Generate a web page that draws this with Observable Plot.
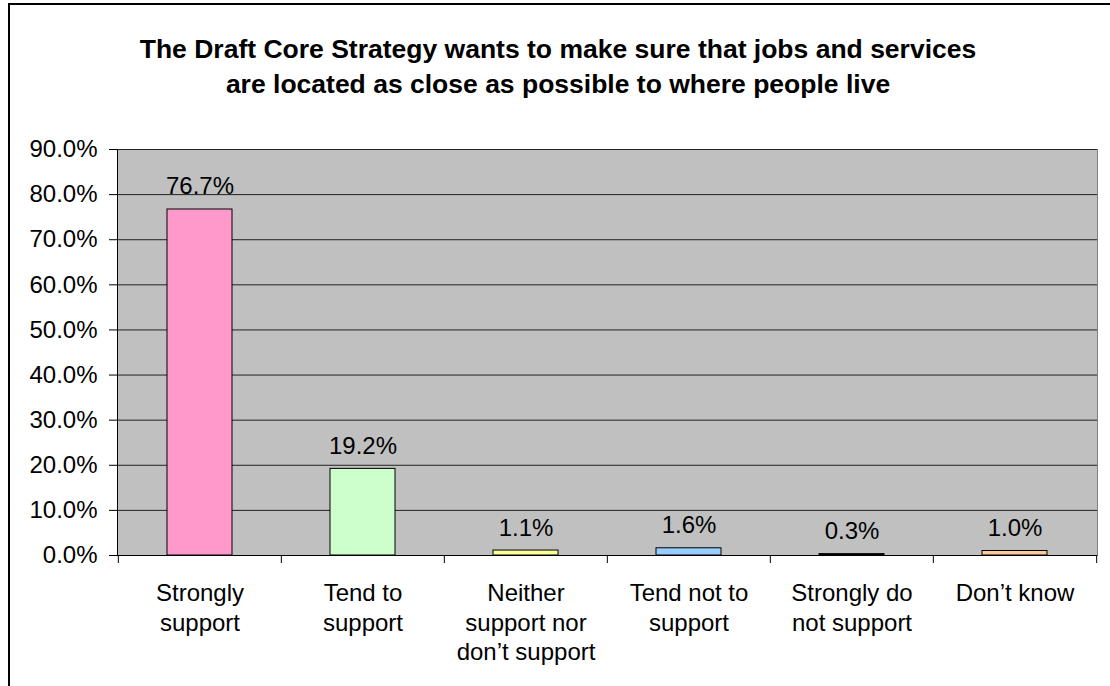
<!DOCTYPE html>
<html>
<head>
<meta charset="utf-8">
<script src="https://cdn.jsdelivr.net/npm/d3@7"></script>
<script src="https://cdn.jsdelivr.net/npm/@observablehq/plot@0.6"></script>
<style>
  html, body { margin: 0; padding: 0; background: #fff; }
  #wrap { position: relative; width: 1110px; height: 686px; overflow: hidden; font-family: Arial, "Liberation Sans", sans-serif; }
  #frame { position: absolute; left: 8px; top: 3px; width: 1200px; height: 800px; border-left: 2px solid #000; border-top: 2px solid #000; box-sizing: border-box; }
  #title { position: absolute; left: 0; top: 0; width: 1116px; height: 130px; text-align: center; font-weight: bold; font-size: 26.5px; line-height: 35px; padding-top: 32px; box-sizing: border-box; color: #000; }
  #chart { position: absolute; left: 0; top: 130px; }
</style>
</head>
<body>
<div id="wrap">
  <div id="frame"></div>
  <div id="title">The Draft Core Strategy wants to make sure that jobs and services<br>are located as close as possible to where people live</div>
  <div id="chart"></div>
</div>
<script>
const categories = ["Strongly support", "Tend to support", "Neither support nor don’t support", "Tend not to support", "Strongly do not support", "Don’t know"];
const tickLabels = ["Strongly\nsupport", "Tend to\nsupport", "Neither\nsupport nor\ndon’t support", "Tend not to\nsupport", "Strongly do\nnot support", "Don’t know"];
const values = [76.7, 19.2, 1.1, 1.6, 0.3, 1.0];
const barColors = ["#FF99CC", "#CCFFCC", "#FFFF99", "#99CCFF", "#000000", "#FFCC99"];
const yTicks = [0, 10, 20, 30, 40, 50, 60, 70, 80, 90];

const data = categories.map((c, i) => ({cat: c, value: values[i], color: barColors[i]}));
const labelOf = new Map(categories.map((c, i) => [c, tickLabels[i]]));

const W = 1110, H = 556, mL = 117, mR = 13, mT = 19, mB = 131;
const step = (W - mL - mR) / categories.length;

const chart = Plot.plot({
  width: W, height: H,
  marginLeft: mL, marginRight: mR, marginTop: mT, marginBottom: mB,
  style: {fontFamily: "Arial, 'Liberation Sans', sans-serif", fontSize: "24px", color: "#000", background: "transparent", overflow: "visible"},
  x: {domain: categories, paddingInner: 0.6, paddingOuter: 0.3},
  y: {domain: [0, 90]},
  color: {type: "identity"},
  marks: [
    Plot.frame({fill: "#C0C0C0"}),
    Plot.ruleY(yTicks, {stroke: "#222", strokeWidth: 1}),
    Plot.frame({anchor: "right", stroke: "#808080"}),
    Plot.frame({anchor: "left", stroke: "#000"}),
    Plot.barY(data, {x: "cat", y: "value", fill: "color", stroke: "#000", strokeWidth: 1}),
    Plot.text(data, {x: "cat", y: "value", text: d => d.value.toFixed(1) + "%", lineAnchor: "bottom", dy: -15, fill: "#000"}),
    Plot.ruleY([0], {stroke: "#000"}),
    Plot.axisY({ticks: yTicks, tickSize: 8, tickPadding: 12, tickFormat: d => d.toFixed(1) + "%", label: null, stroke: "#000"}),
    Plot.axisX({tickSize: 0, tickPadding: 25, lineHeight: 1.22, tickFormat: d => labelOf.get(d), label: null}),
    Plot.axisX({tickSize: 8, tickFormat: () => "", dx: -step / 2, label: null, stroke: "#000"}),
    Plot.axisX({ticks: [categories[categories.length - 1]], tickSize: 8, tickFormat: () => "", dx: step / 2, label: null, stroke: "#000"})
  ]
});
document.getElementById("chart").appendChild(chart);
</script>
</body>
</html>
